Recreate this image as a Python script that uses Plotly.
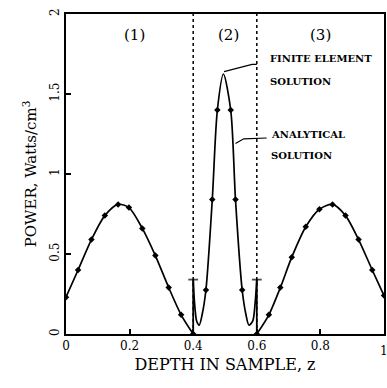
import plotly.graph_objects as go

# Analytical solution (depth z, power W/cm^3)
z1 = [0.0, 0.038, 0.080, 0.122, 0.164, 0.198, 0.240, 0.281, 0.323, 0.362, 0.400]
p1 = [0.23, 0.40, 0.59, 0.74, 0.81, 0.79, 0.66, 0.49, 0.29, 0.12, 0.0]

z2 = [0.400, 0.404, 0.411, 0.419, 0.428, 0.440, 0.460, 0.476, 0.495, 0.518, 0.533, 0.554, 0.566, 0.575, 0.587, 0.595, 0.600]
p2 = [0.34, 0.20, 0.08, 0.056, 0.12, 0.275, 0.84, 1.40, 1.625, 1.40, 0.84, 0.275, 0.12, 0.056, 0.08, 0.20, 0.34]

z3 = [0.600, 0.638, 0.674, 0.710, 0.754, 0.797, 0.838, 0.879, 0.920, 0.963, 1.0]
p3 = [0.0, 0.12, 0.29, 0.48, 0.67, 0.78, 0.81, 0.74, 0.59, 0.40, 0.24]

# Finite element solution markers in region 2
fe2_z = [0.440, 0.460, 0.476, 0.518, 0.533, 0.554]
fe2_p = [0.275, 0.84, 1.40, 1.40, 0.84, 0.275]

# Interface jumps at region boundaries
jump_z = [0.4, 0.6]
jump_p = [0.34, 0.34]

boundaries = [0.4, 0.6]
region_labels = ["(1)", "(2)", "(3)"]
region_label_z = [0.215, 0.51, 0.80]
region_label_p = 1.87

xticks = [0, 0.2, 0.4, 0.6, 0.8]
xticklabels = ["0", "0.2", "0.4", "0.6", "0.8"]
last_xtick = 1
last_xticklabel = "1"
yticks = [0, 0.5, 1, 1.5, 2]
yticklabels = ["0", "0.5", "1", "1.5", "2"]

# leader lines (z, P)
fe_leader_z = [0.497, 0.585, 0.600]
fe_leader_p = [1.64, 1.685, 1.685]
an_leader_z = [0.533, 0.559, 0.631]
an_leader_p = [1.19, 1.22, 1.225]

FONT = "DejaVu Serif"
fig = go.Figure()

line_style = dict(color="black", width=1.7, shape="spline", smoothing=0.8)
mk = dict(symbol="diamond", size=5, color="black")

fig.add_trace(go.Scatter(x=z1, y=p1, mode="lines+markers", line=line_style, marker=mk))
fig.add_trace(go.Scatter(x=z3, y=p3, mode="lines+markers", line=line_style, marker=mk))
fig.add_trace(go.Scatter(x=z2, y=p2, mode="lines", line=line_style))
fig.add_trace(go.Scatter(x=fe2_z, y=fe2_p, mode="markers", marker=mk))

for zj, pj in zip(jump_z, jump_p):
    fig.add_trace(go.Scatter(x=[zj, zj], y=[0, pj], mode="lines+markers",
                             line=dict(color="black", width=1.8),
                             marker=dict(symbol="line-ew", size=[0, 7],
                                         line=dict(color="black", width=1.8))))

for b in boundaries:
    fig.add_trace(go.Scatter(x=[b, b], y=[0, 2], mode="lines",
                             line=dict(color="black", width=1.5, dash="dot")))

fig.add_trace(go.Scatter(x=fe_leader_z, y=fe_leader_p, mode="lines",
                         line=dict(color="black", width=1.2)))
fig.add_trace(go.Scatter(x=an_leader_z, y=an_leader_p, mode="lines",
                         line=dict(color="black", width=1.2)))

for lab, zz in zip(region_labels, region_label_z):
    fig.add_annotation(x=zz, y=region_label_p, text=lab, showarrow=False,
                       font=dict(family=FONT, size=15, color="black"))

label_font = dict(family=FONT, size=10, color="black")
fig.add_annotation(x=0.636, y=1.72, text="<b>FINITE ELEMENT</b>", showarrow=False,
                   xanchor="left", font=label_font)
fig.add_annotation(x=0.636, y=1.58, text="<b>SOLUTION</b>", showarrow=False,
                   xanchor="left", font=label_font)
fig.add_annotation(x=0.638, y=1.245, text="<b>ANALYTICAL</b>", showarrow=False,
                   xanchor="left", font=label_font)
fig.add_annotation(x=0.638, y=1.115, text="<b>SOLUTION</b>", showarrow=False,
                   xanchor="left", font=label_font)

# last x tick label (at the right edge of the window)
fig.add_annotation(x=last_xtick, y=0, yshift=-17, text=last_xticklabel, showarrow=False,
                   xanchor="center", yanchor="middle",
                   font=dict(family=FONT, size=12, color="black"))

fig.update_layout(
    width=387, height=388,
    margin=dict(l=66, r=1, t=14, b=54),
    paper_bgcolor="white", plot_bgcolor="white",
    showlegend=False,
    xaxis=dict(range=[0, 1], tickvals=xticks, ticktext=xticklabels,
               ticks="inside", ticklen=5, tickcolor="black", tickwidth=1.5,
               showline=True, linecolor="black", linewidth=2, mirror=True,
               showgrid=False, zeroline=False,
               tickfont=dict(family=FONT, size=12, color="black"),
               title=dict(text="DEPTH IN SAMPLE, z", standoff=6,
                          font=dict(family=FONT, size=16, color="black"))),
    yaxis=dict(range=[0, 2], tickvals=yticks, ticktext=yticklabels,
               ticks="inside", ticklen=5, tickcolor="black", tickwidth=1.5,
               tickangle=-90,
               showline=True, linecolor="black", linewidth=2, mirror=True,
               showgrid=False, zeroline=False,
               tickfont=dict(family=FONT, size=12, color="black"),
               title=dict(text="POWER, Watts/cm<sup>3</sup>", standoff=8,
                          font=dict(family=FONT, size=15, color="black"))),
)

fig.write_html("out.html")
